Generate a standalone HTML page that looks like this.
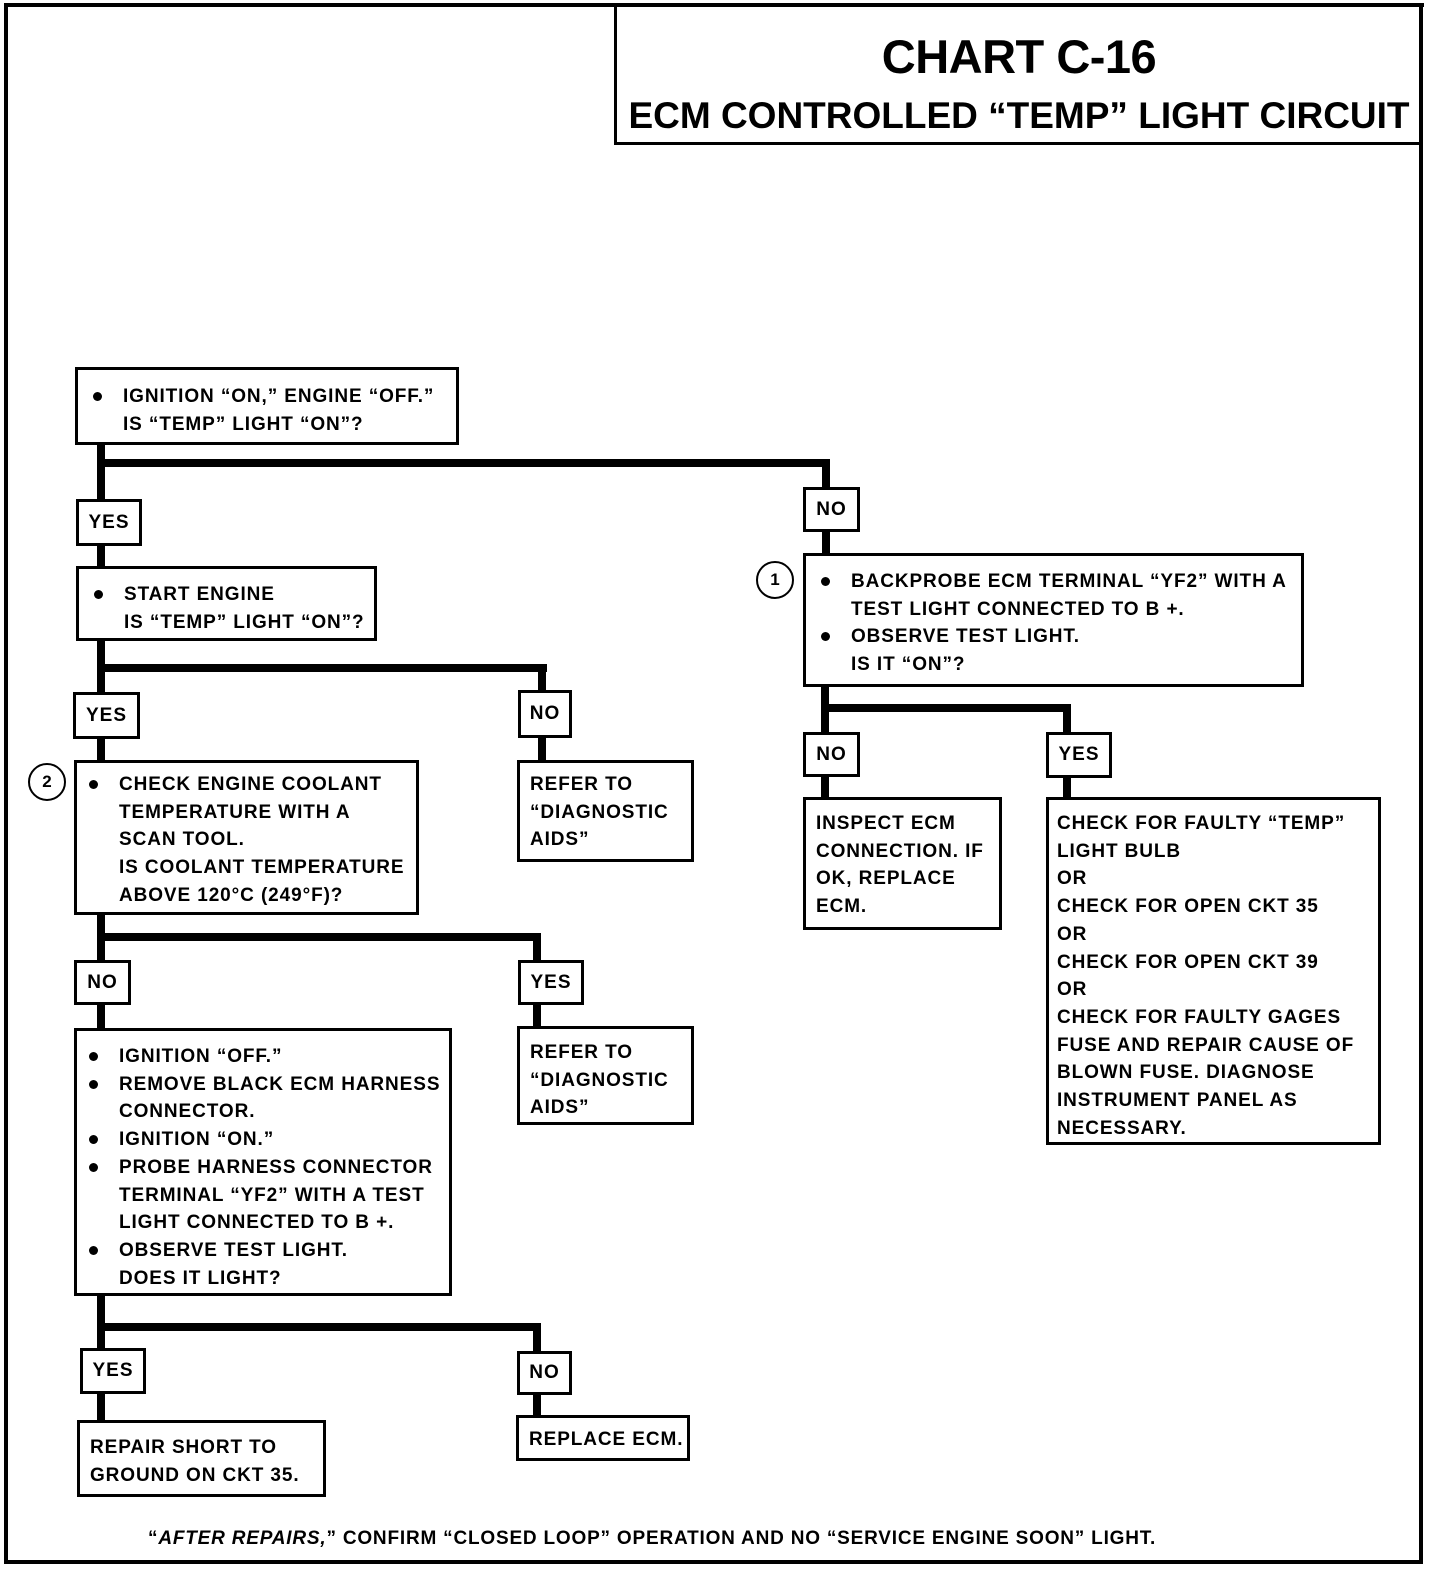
<!DOCTYPE html>
<html><head><meta charset="utf-8"><style>
html,body{margin:0;padding:0;background:#fff}
body{width:1456px;height:1588px;position:relative;overflow:hidden;font-family:"Liberation Sans",sans-serif;font-weight:bold;color:#000}
.b{position:absolute;border:3px solid #000;box-sizing:border-box;background:#fff;font-size:19px;letter-spacing:0.9px;line-height:27.7px;white-space:nowrap}
.l{position:absolute;background:#000}
.lab{position:absolute;border:3px solid #000;box-sizing:border-box;background:#fff;font-size:19px;letter-spacing:1px;display:flex;align-items:center;justify-content:center}
.bl{position:relative;padding-left:42px}
.bl::before{content:"";position:absolute;left:12px;top:9px;width:9px;height:9px;border-radius:50%;background:#000}
.c{position:absolute;width:38px;height:38px;border:2px solid #000;border-radius:50%;box-sizing:border-box;font-size:17px;display:flex;align-items:center;justify-content:center}
</style></head><body>
<div class="l" style="left:4px;top:4px;width:4px;height:1560px"></div>
<div class="l" style="left:4px;top:3px;width:1420px;height:4px"></div>
<div class="l" style="left:1419px;top:3px;width:4px;height:1561px"></div>
<div class="l" style="left:4px;top:1560px;width:1419px;height:4px"></div>
<div style="position:absolute;left:614px;top:3px;width:807px;height:142px;border-left:3px solid #000;border-bottom:3px solid #000;box-sizing:border-box;text-align:center">
<div style="font-size:47px;position:absolute;left:0;right:0;top:26px;letter-spacing:-0.5px">CHART C-16</div>
<div style="font-size:37px;position:absolute;left:0;right:0;top:92px;letter-spacing:0px">ECM CONTROLLED “TEMP” LIGHT CIRCUIT</div>
</div>

<div class="l" style="left:97px;top:444px;width:8px;height:124px"></div>
<div class="l" style="left:97px;top:459px;width:733px;height:8px"></div>
<div class="l" style="left:822px;top:459px;width:8px;height:96px"></div>
<div class="l" style="left:97px;top:640px;width:8px;height:122px"></div>
<div class="l" style="left:97px;top:664px;width:450px;height:8px"></div>
<div class="l" style="left:538px;top:664px;width:8px;height:98px"></div>
<div class="l" style="left:97px;top:914px;width:8px;height:116px"></div>
<div class="l" style="left:97px;top:933px;width:444px;height:8px"></div>
<div class="l" style="left:533px;top:933px;width:8px;height:95px"></div>
<div class="l" style="left:97px;top:1295px;width:8px;height:127px"></div>
<div class="l" style="left:97px;top:1323px;width:444px;height:8px"></div>
<div class="l" style="left:533px;top:1323px;width:8px;height:94px"></div>
<div class="l" style="left:821px;top:686px;width:8px;height:113px"></div>
<div class="l" style="left:821px;top:704px;width:250px;height:8px"></div>
<div class="l" style="left:1063px;top:704px;width:8px;height:95px"></div>

<div class="lab" style="left:76px;top:499px;width:66px;height:47px">YES</div>
<div class="lab" style="left:803px;top:487px;width:57px;height:45px">NO</div>
<div class="lab" style="left:73px;top:692px;width:67px;height:47px">YES</div>
<div class="lab" style="left:518px;top:690px;width:54px;height:48px">NO</div>
<div class="lab" style="left:74px;top:960px;width:57px;height:45px">NO</div>
<div class="lab" style="left:518px;top:960px;width:66px;height:45px">YES</div>
<div class="lab" style="left:80px;top:1348px;width:66px;height:46px">YES</div>
<div class="lab" style="left:517px;top:1351px;width:55px;height:44px">NO</div>
<div class="lab" style="left:803px;top:732px;width:57px;height:45px">NO</div>
<div class="lab" style="left:1046px;top:732px;width:66px;height:46px">YES</div>

<div class="b" style="left:75px;top:367px;width:384px;height:78px;padding:13px 0 0 3px">
<div class="bl">IGNITION “ON,” ENGINE “OFF.”</div><div style="padding-left:42px">IS “TEMP” LIGHT “ON”?</div></div>

<div class="b" style="left:76px;top:566px;width:301px;height:75px;padding:12px 0 0 3px">
<div class="bl">START ENGINE</div><div style="padding-left:42px">IS “TEMP” LIGHT “ON”?</div></div>

<div class="c" style="left:28px;top:763px">2</div>
<div class="b" style="left:74px;top:760px;width:345px;height:155px;padding:8px 0 0 0">
<div class="bl">CHECK ENGINE COOLANT</div>
<div style="padding-left:42px">TEMPERATURE WITH A<br>SCAN TOOL.<br>IS COOLANT TEMPERATURE<br>ABOVE 120°C (249°F)?</div></div>

<div class="b" style="left:517px;top:760px;width:177px;height:102px;padding:8px 0 0 10px">REFER TO<br>“DIAGNOSTIC<br>AIDS”</div>

<div class="b" style="left:74px;top:1028px;width:378px;height:268px;padding:12px 0 0 0">
<div class="bl">IGNITION “OFF.”</div>
<div class="bl">REMOVE BLACK ECM HARNESS</div>
<div style="padding-left:42px">CONNECTOR.</div>
<div class="bl">IGNITION “ON.”</div>
<div class="bl">PROBE HARNESS CONNECTOR</div>
<div style="padding-left:42px">TERMINAL “YF2” WITH A TEST<br>LIGHT CONNECTED TO B +.</div>
<div class="bl">OBSERVE TEST LIGHT.</div>
<div style="padding-left:42px">DOES IT LIGHT?</div></div>

<div class="b" style="left:517px;top:1026px;width:177px;height:99px;padding:10px 0 0 10px">REFER TO<br>“DIAGNOSTIC<br>AIDS”</div>

<div class="b" style="left:77px;top:1420px;width:249px;height:77px;padding:11px 0 0 10px">REPAIR SHORT TO<br>GROUND ON CKT 35.</div>

<div class="b" style="left:516px;top:1415px;width:174px;height:46px;padding:8px 0 0 10px">REPLACE ECM.</div>

<div class="c" style="left:756px;top:561px">1</div>
<div class="b" style="left:803px;top:553px;width:501px;height:134px;padding:12px 0 0 3px">
<div class="bl">BACKPROBE ECM TERMINAL “YF2” WITH A</div>
<div style="padding-left:42px">TEST LIGHT CONNECTED TO B +.</div>
<div class="bl">OBSERVE TEST LIGHT.</div>
<div style="padding-left:42px">IS IT “ON”?</div></div>

<div class="b" style="left:803px;top:797px;width:199px;height:133px;padding:10px 0 0 10px">INSPECT ECM<br>CONNECTION. IF<br>OK, REPLACE<br>ECM.</div>

<div class="b" style="left:1046px;top:797px;width:335px;height:348px;padding:10px 0 0 8px">CHECK FOR FAULTY “TEMP”<br>LIGHT BULB<br>OR<br>CHECK FOR OPEN CKT 35<br>OR<br>CHECK FOR OPEN CKT 39<br>OR<br>CHECK FOR FAULTY GAGES<br>FUSE AND REPAIR CAUSE OF<br>BLOWN FUSE. DIAGNOSE<br>INSTRUMENT PANEL AS<br>NECESSARY.</div>

<div style="position:absolute;left:148px;top:1528px;font-size:19px;letter-spacing:0.8px;white-space:nowrap">“<i>AFTER REPAIRS,</i>” CONFIRM “CLOSED LOOP” OPERATION AND NO “SERVICE ENGINE SOON” LIGHT.</div>
</body></html>
